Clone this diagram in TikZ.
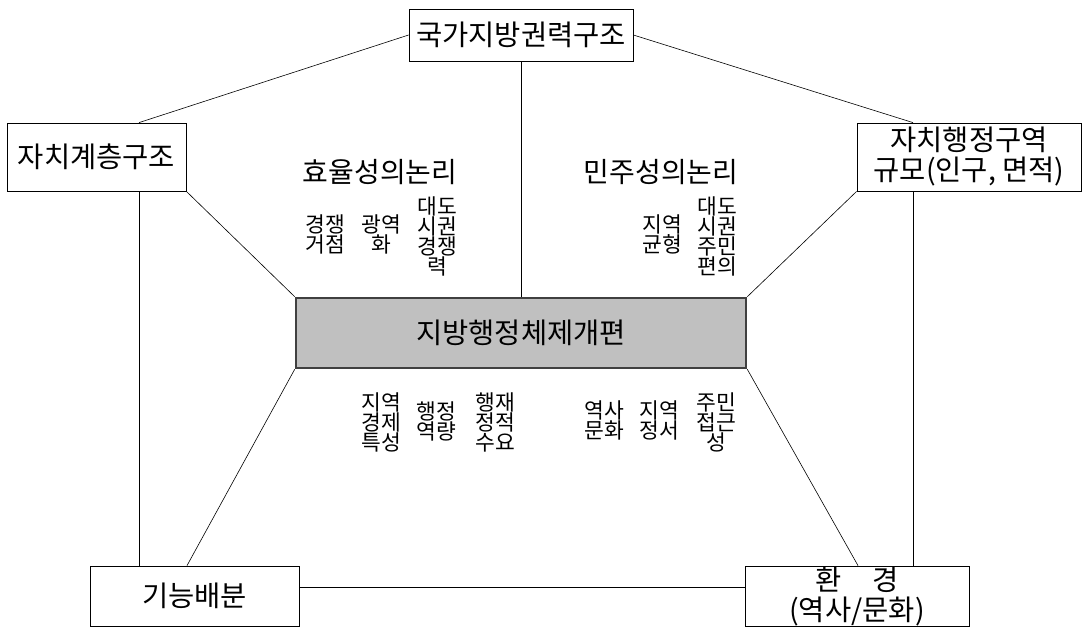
\documentclass[tikz,border=0pt]{standalone}
\usepackage{fontspec}
\newfontfamily\kr{Noto Sans CJK KR}
\definecolor{mainfill}{RGB}{192,192,192}
\definecolor{mainedge}{RGB}{64,64,64}
\begin{document}
\begin{tikzpicture}[x=1pt,y=-1pt,
  box/.style={draw, line width=0.8pt, fill=white, inner sep=0pt, align=center,
    font=\kr\fontsize{28.5}{30}\selectfont},
  mainbox/.style={draw=mainedge, line width=2.6pt, fill=mainfill, inner sep=0pt,
    font=\kr\fontsize{28.5}{30}\selectfont},
  head/.style={inner sep=0pt, font=\kr\fontsize{28}{30}\selectfont},
  lbl/.style={inner sep=0pt, align=center, font=\kr\fontsize{21.5}{20}\selectfont},
  conn/.style={line width=0.6pt}]
\useasboundingbox (0,0) rectangle (1082,627);

% helper coordinates for connector positions
\coordinate (vl) at (139,0);
\coordinate (vr) at (913,0);
\coordinate (dl) at (187,0);
\coordinate (dr) at (858,0);
\coordinate (hz) at (0,587);

% boxes
\node[box, minimum width=224pt, minimum height=52pt] (top) at (521,35) {국가지방권력구조};
\node[box, minimum width=179pt, minimum height=68pt] (left) at (96.5,157) {자치계층구조};
\node[box, minimum width=224pt, minimum height=68pt] (right) at (969,157) {자치행정구역\\규모(인구, 면적)};
\node[mainbox, minimum width=450pt, minimum height=70pt] (main) at (521,333) {지방행정체제개편};
\node[box, minimum width=209pt, minimum height=60pt] (bl) at (194.5,596) {기능배분};
\node[box, minimum width=224pt, minimum height=60pt] (br) at (857,596) {환\hspace{1.1em}경\\(역사/문화)};

% connectors
\draw[conn] (top.west) -- (left.north -| vl);
\draw[conn] (top.east) -- (right.north -| vr);
\draw[conn] (top.south) -- (main.north);
\draw[conn] (left.south east) -- (main.north west);
\draw[conn] (right.south west) -- (main.north east);
\draw[conn] (main.south west) -- (bl.north -| dl);
\draw[conn] (main.south east) -- (br.north -| dr);
\draw[conn] (left.south -| vl) -- (bl.north -| vl);
\draw[conn] (right.south -| vr) -- (br.north -| vr);
\draw[conn] (bl.east |- hz) -- (br.west |- hz);

% headings
\node[head] (eff) at (380,172) {효율성의논리};
\node[head] (dem) at (661,172) {민주성의논리};

% upper-left labels
\node[lbl] (a1) at (325,234) {경쟁\\거점};
\node[lbl] (a2) at (381,234) {광역\\화};
\node[lbl] (a3) at (437,236) {대도\\시권\\경쟁\\력};

% upper-right labels
\node[lbl] (b1) at (662,234) {지역\\균형};
\node[lbl] (b2) at (717,236) {대도\\시권\\주민\\편의};

% lower-left labels
\node[lbl] (c1) at (381,422) {지역\\경제\\특성};
\node[lbl] (c2) at (436,421) {행정\\역량};
\node[lbl] (c3) at (495,422) {행재\\정적\\수요};

% lower-right labels
\node[lbl] (d1) at (604,420) {역사\\문화};
\node[lbl] (d2) at (659,420) {지역\\정서};
\node[lbl] (d3) at (716,422) {주민\\접근\\성};
\end{tikzpicture}
\end{document}
